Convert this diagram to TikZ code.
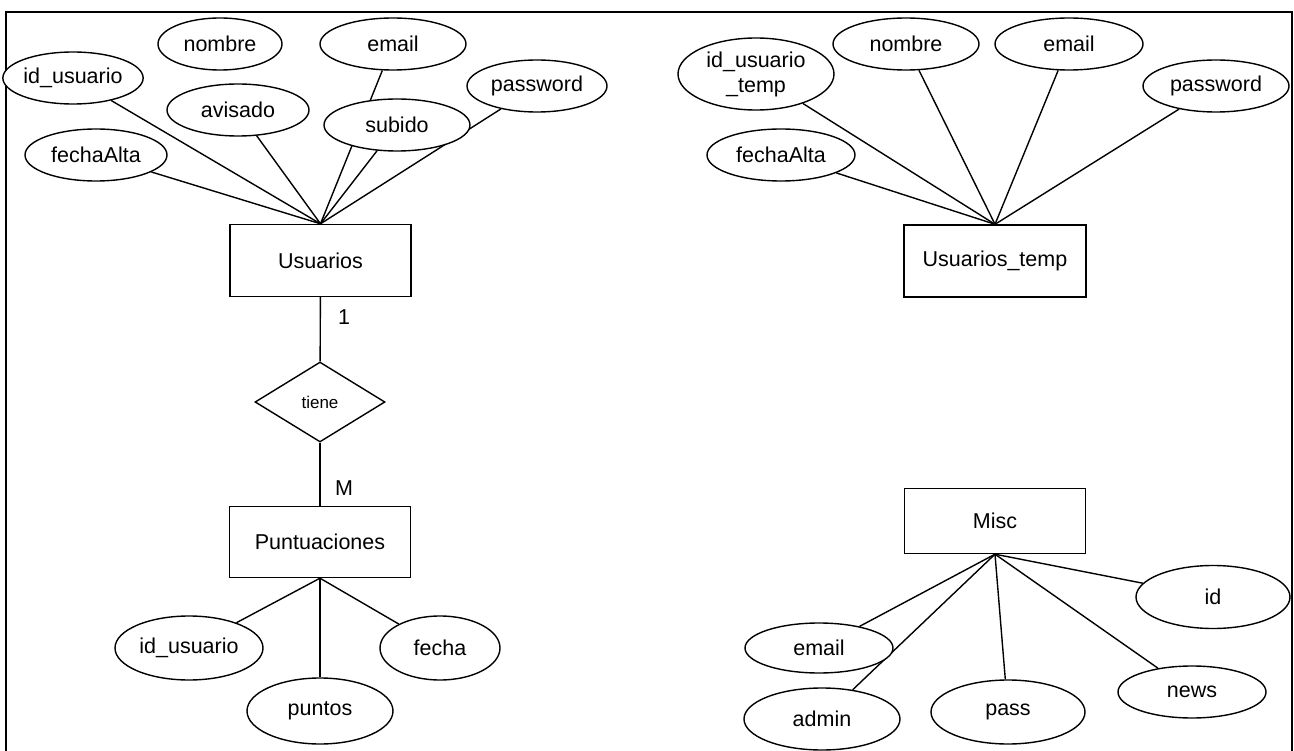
\documentclass[tikz,border=0pt]{standalone}
\usepackage{fontspec}
\setmainfont{Liberation Sans}
\usetikzlibrary{shapes.geometric,backgrounds}
\tikzset{
  txt/.style={font=\fontsize{21.5}{25}\selectfont},
  attr/.style={ellipse, draw, fill=white, line width=1.4pt, inner sep=0pt, txt, align=center},
  ent/.style={rectangle, draw, fill=white, line width=1.4pt, inner sep=0pt,
              minimum width=181pt, minimum height=72pt, txt},
  rel/.style={diamond, draw, fill=white, line width=1.4pt, inner sep=0pt,
              minimum width=130pt, minimum height=80pt, font=\fontsize{17}{20}\selectfont},
  link/.style={line width=1.4pt},
  card/.style={inner sep=0pt, txt},
  frame/.style={line width=2pt},
}
\begin{document}
\begin{tikzpicture}[x=1pt, y=-1pt]
\useasboundingbox (0,0) rectangle (1294,751);

% outer frame, open at the bottom
\draw[frame] (6,751) -- (6,12) -- (1292,12) -- (1292,751);

% ---- Usuarios ----
\node[ent] (usr) at (320.5,260.5) {Usuarios};
\node[attr, minimum width=124pt, minimum height=52pt] (usrNombre)   at (220,44)  {nombre};
\node[attr, minimum width=146pt, minimum height=52pt] (usrEmail)    at (393,44)  {email};
\node[attr, minimum width=132pt, minimum height=52pt] (usrId)       at (73,78)   {id\_usuario};
\node[attr, minimum width=142pt, minimum height=52pt] (usrAvisado)  at (238,110) {avisado};
\node[attr, minimum width=146pt, minimum height=52pt] (usrSubido)   at (397,125) {subido};
\node[attr, minimum width=140pt, minimum height=52pt] (usrPassword) at (537,86)  {password};
\node[attr, minimum width=142pt, minimum height=52pt] (usrFecha)    at (96,155)  {fechaAlta};

% ---- Usuarios_temp ----
\node[ent, minimum width=182pt] (tmp) at (995,261) {Usuarios\_temp};
\node[attr, minimum width=156pt, minimum height=72pt] (tmpId)       at (756,74)  {id\_usuario\\\_temp};
\node[attr, minimum width=146pt, minimum height=52pt] (tmpNombre)   at (906,44)  {nombre};
\node[attr, minimum width=148pt, minimum height=52pt] (tmpEmail)    at (1069,44) {email};
\node[attr, minimum width=146pt, minimum height=52pt] (tmpPassword) at (1216,86) {password};
\node[attr, minimum width=148pt, minimum height=52pt] (tmpFecha)    at (781,155) {fechaAlta};

% ---- relationship ----
\node[rel] (tiene) at (320,402) {tiene};
\node[ent, minimum width=181pt, minimum height=71pt] (pts) at (320,542) {Puntuaciones};
\node[card] (oneLbl) at (344,317) {1};
\node[card] (manyLbl) at (344,488) {M};

% ---- Puntuaciones attributes ----
\node[attr, minimum width=148pt, minimum height=64pt] (ptsId)     at (189,648) {id\_usuario};
\node[attr, minimum width=146pt, minimum height=66pt] (ptsPuntos) at (320,711) {puntos};
\node[attr, minimum width=120pt, minimum height=64pt] (ptsFecha)  at (440,648) {fecha};

% ---- Misc ----
\node[ent, minimum width=181pt, minimum height=65pt] (misc) at (995,521) {Misc};
\node[attr, minimum width=154pt, minimum height=63pt] (miscId)    at (1213,597) {id};
\node[attr, minimum width=148pt, minimum height=52pt] (miscNews)  at (1192,692) {news};
\node[attr, minimum width=154pt, minimum height=64pt] (miscPass)  at (1008,712) {pass};
\node[attr, minimum width=148pt, minimum height=50pt] (miscEmail) at (819,648)  {email};
\node[attr, minimum width=156pt, minimum height=62pt] (miscAdmin) at (822,719)  {admin};

% ---- connectors, kept behind the shapes ----
\begin{scope}[on background layer]
  \foreach \a in {usrId, usrFecha, usrAvisado, usrEmail, usrSubido, usrPassword}
    \draw[link] (\a) -- (usr.north);
  \foreach \a in {tmpId, tmpFecha, tmpNombre, tmpEmail, tmpPassword}
    \draw[link] (\a) -- (tmp.north);
  \draw[link] (usr) -- (tiene);
  \draw[link] (tiene) -- (pts);
  \foreach \a in {ptsId, ptsPuntos, ptsFecha}
    \draw[link] (\a) -- (pts.south);
  \foreach \a in {miscId, miscNews, miscPass, miscEmail, miscAdmin}
    \draw[link] (\a) -- (misc.south);
\end{scope}
\end{tikzpicture}
\end{document}
